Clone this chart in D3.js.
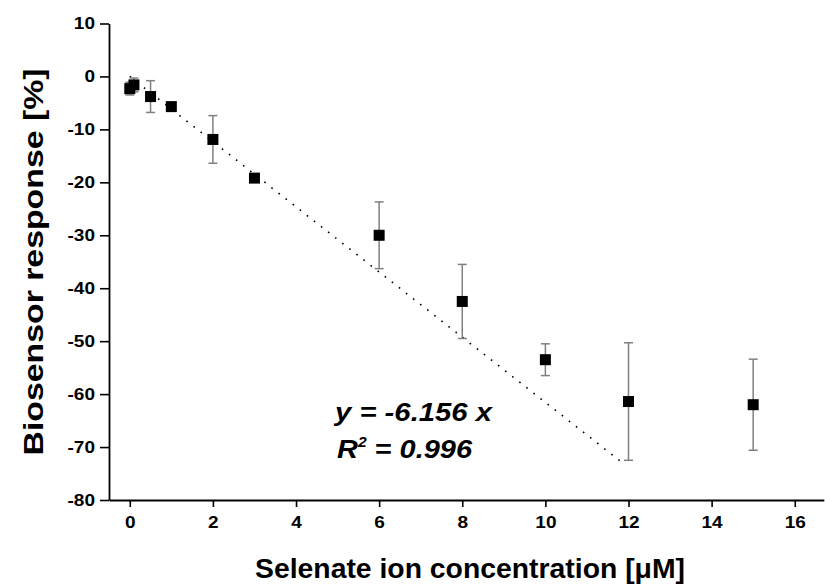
<!DOCTYPE html>
<html><head><meta charset="utf-8">
<script src="https://cdn.jsdelivr.net/npm/d3@7"></script>
<style>body{margin:0;background:#fff} svg{display:block}</style>
</head><body><svg id="c" width="825" height="585"></svg>
<script>
const concentrations = [0, 0.1, 0.5, 1, 2, 3, 6, 8, 10, 12, 15];
const responses = [-2.3, -1.6, -3.8, -5.7, -11.9, -19.2, -30.0, -42.5, -53.5, -61.4, -62.0];
const errors = [1.2, 1.3, 3.0, 0.6, 4.5, 0.6, 6.3, 7.0, 3.0, 11.1, 8.6];
const slope = -6.156;
const fitRange = [0, 11.9];
const xTicks = [0, 2, 4, 6, 8, 10, 12, 14, 16];
const xMinorTicks = [1, 3, 5, 7, 9, 11, 13, 15];
const yTicks = [10, 0, -10, -20, -30, -40, -50, -60, -70, -80];
const yMinorTicks = [5, -5, -15, -25, -35, -45, -55, -65, -75];
const xTitle = "Selenate ion concentration [\u03BCM]";
const yTitle = "Biosensor response [%]";
const eqLine1 = "y = -6.156 x";
const eqR2 = "0.996";

const svg = d3.select("#c");
const FONT = "'Liberation Sans', Arial, Helvetica, sans-serif";
const x = d3.scaleLinear().domain([-0.5, 16.7]).range([109, 109 + 17.2 * 41.56]);
const y = d3.scaleLinear().domain([-80, 10]).range([500, 23.5]);
const fmt = d => String(d);

// axes
const gx = svg.append("g").attr("transform", `translate(0,${y(-80)})`);
gx.call(d3.axisBottom(x).tickValues(xMinorTicks).tickSize(5).tickSizeOuter(0).tickFormat(""));
gx.call(d3.axisBottom(x).tickValues(xTicks).tickSize(7).tickSizeOuter(0).tickPadding(9).tickFormat(fmt));
const gy = svg.append("g").attr("transform", `translate(${x(-0.5)},0)`);
gy.call(d3.axisLeft(y).tickValues(yMinorTicks).tickSize(5).tickSizeOuter(0).tickFormat(""));
gy.call(d3.axisLeft(y).tickValues(yTicks).tickSize(9).tickSizeOuter(0).tickPadding(5).tickFormat(fmt));
svg.selectAll(".domain").attr("stroke", "#000").attr("stroke-width", 1.8);
svg.selectAll(".tick line").attr("stroke", "#000").attr("stroke-width", 1.6);
svg.selectAll(".tick text").attr("font-family", FONT).attr("font-weight", "bold")
  .attr("font-size", 17).attr("fill", "#000");
gx.selectAll(".tick text").attr("transform", "scale(1.12,1)");
gy.selectAll(".tick text").each(function(){
  const t = d3.select(this); const tx = +t.attr("x");
  t.attr("x", 0).attr("transform", `translate(${tx},0) scale(1.12,1)`);
});

// fit line
svg.append("line")
  .attr("x1", x(fitRange[0])).attr("y1", y(slope * fitRange[0]))
  .attr("x2", x(fitRange[1])).attr("y2", y(slope * fitRange[1]))
  .attr("stroke", "#000").attr("stroke-width", 1.6).attr("stroke-dasharray", "1.6,7.4");

// error bars
const data = concentrations.map((c, i) => ({c, v: responses[i], e: errors[i]}));
const eb = svg.append("g").attr("stroke", "#808080").attr("stroke-width", 1.5);
data.forEach(d => {
  eb.append("line").attr("x1", x(d.c)).attr("x2", x(d.c)).attr("y1", y(d.v + d.e)).attr("y2", y(d.v - d.e));
  [d.v + d.e, d.v - d.e].forEach(v => {
    eb.append("line").attr("x1", x(d.c) - 4.5).attr("x2", x(d.c) + 4.5).attr("y1", y(v)).attr("y2", y(v));
  });
});

// markers
svg.append("g").selectAll("rect").data(data).join("rect")
  .attr("x", d => x(d.c) - 5.5).attr("y", d => y(d.v) - 5.5)
  .attr("width", 11).attr("height", 11).attr("fill", "#000");

// equation
const eq = svg.append("g").attr("font-family", FONT).attr("font-weight", "bold")
  .attr("font-style", "italic").attr("font-size", 26).attr("fill", "#000");
eq.append("text").attr("x", 335).attr("y", 421).attr("textLength", 157)
  .attr("lengthAdjust", "spacingAndGlyphs").text(eqLine1);
const r2 = eq.append("text").attr("x", 337).attr("y", 458).attr("textLength", 135)
  .attr("lengthAdjust", "spacingAndGlyphs");
r2.append("tspan").text("R");
r2.append("tspan").attr("font-size", 14).attr("dy", -11).text("2");
r2.append("tspan").attr("dy", 11).text(" = " + eqR2);

// titles
svg.append("text").attr("x", 470).attr("y", 578).attr("text-anchor", "middle")
  .attr("font-family", FONT).attr("font-weight", "bold").attr("font-size", 27)
  .attr("textLength", 430).attr("lengthAdjust", "spacingAndGlyphs").text(xTitle);
svg.append("text").attr("transform", "translate(43,262) rotate(-90)").attr("text-anchor", "middle")
  .attr("font-family", FONT).attr("font-weight", "bold").attr("font-size", 27)
  .attr("textLength", 387).attr("lengthAdjust", "spacingAndGlyphs").text(yTitle);
</script></body></html>
